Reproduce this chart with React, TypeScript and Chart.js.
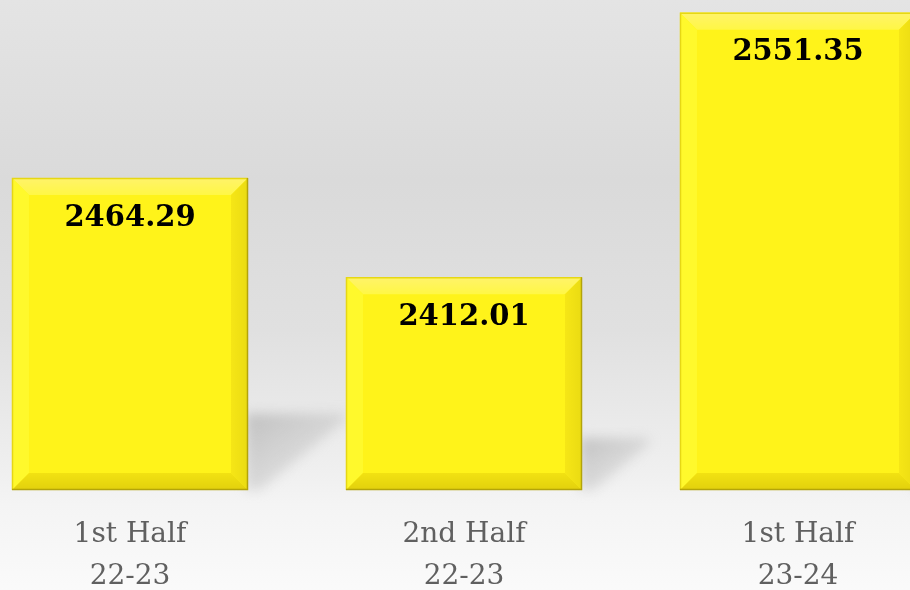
import React, { useEffect, useRef } from "react";
import { Chart, registerables } from "chart.js";

Chart.register(...registerables);

const categories: string[][] = [
  ["1st Half", "22-23"],
  ["2nd Half", "22-23"],
  ["1st Half", "23-24"],
];
const values: number[] = [2464.29, 2412.01, 2551.35];
const valueLabels: string[] = ["2464.29", "2412.01", "2551.35"];
const yMin = 2300;
const yMax = 2558;

const backgroundPlugin = {
  id: "bgGrad",
  beforeDraw(chart: any) {
    const { ctx, width, height } = chart;
    const g = ctx.createLinearGradient(0, 0, 0, height);
    g.addColorStop(0, "#e4e4e4");
    g.addColorStop(0.3, "#dadada");
    g.addColorStop(0.55, "#e0e0e0");
    g.addColorStop(0.78, "#efefef");
    g.addColorStop(0.84, "#f4f4f4");
    g.addColorStop(1, "#fbfbfb");
    ctx.save();
    ctx.fillStyle = g;
    ctx.fillRect(0, 0, width, height);
    ctx.restore();
  },
};

const barRect = (chart: any, bar: any) => {
  const p = bar.getProps(["x", "y", "base", "width"], true);
  const bottom = Math.min(p.base, chart.chartArea.bottom);
  return { x: p.x, L: p.x - p.width / 2, R: p.x + p.width / 2, T: p.y, B: bottom };
};

const shadowPlugin = {
  id: "barShadow",
  beforeDatasetsDraw(chart: any) {
    const { ctx } = chart;
    const meta = chart.getDatasetMeta(0);
    meta.data.forEach((bar: any) => {
      const r = barRect(chart, bar);
      const bh = r.B - r.T;
      const h = bh * 0.245;
      const ext = h * 1.28;
      const top = r.B - h;
      ctx.save();
      ctx.filter = "blur(6px)";
      const g = ctx.createLinearGradient(r.R, top, r.R + ext * 0.6, r.B);
      g.addColorStop(0, "rgba(175,175,175,0.7)");
      g.addColorStop(1, "rgba(200,200,200,0.35)");
      ctx.fillStyle = g;
      ctx.beginPath();
      ctx.moveTo(r.R - 2, top);
      ctx.lineTo(r.R + ext, top);
      ctx.lineTo(r.R + ext, top + 6);
      ctx.lineTo(r.R + 12, r.B);
      ctx.lineTo(r.R - 2, r.B);
      ctx.closePath();
      ctx.fill();
      ctx.restore();
    });
  },
};

const bevelPlugin = {
  id: "bevel",
  afterDatasetsDraw(chart: any) {
    const { ctx } = chart;
    const meta = chart.getDatasetMeta(0);
    meta.data.forEach((bar: any, i: number) => {
      const { x, L, R, T, B } = barRect(chart, bar);
      const b = 17;
      const poly = (pts: number[][], fill: any) => {
        ctx.beginPath();
        ctx.moveTo(pts[0][0], pts[0][1]);
        for (let k = 1; k < pts.length; k++) ctx.lineTo(pts[k][0], pts[k][1]);
        ctx.closePath();
        ctx.fillStyle = fill;
        ctx.fill();
      };
      ctx.save();
      poly([[L, T], [R, T], [R, B], [L, B]], "#fff31a");
      const tg = ctx.createLinearGradient(0, T, 0, T + b);
      tg.addColorStop(0, "#fff36a");
      tg.addColorStop(1, "#fff745");
      poly([[L, T], [R, T], [R - b, T + b], [L + b, T + b]], tg);
      poly([[L, T], [L + b, T + b], [L + b, B - b], [L, B]], "#fff92c");
      const rg = ctx.createLinearGradient(R - b, 0, R, 0);
      rg.addColorStop(0, "#f6e616");
      rg.addColorStop(1, "#eadb12");
      poly([[R, T], [R, B], [R - b, B - b], [R - b, T + b]], rg);
      const bg = ctx.createLinearGradient(0, B - b, 0, B);
      bg.addColorStop(0, "#f2e212");
      bg.addColorStop(1, "#e2d00c");
      poly([[L, B], [R, B], [R - b, B - b], [L + b, B - b]], bg);
      ctx.lineWidth = 1.5;
      ctx.strokeStyle = "#e6d714";
      ctx.beginPath();
      ctx.moveTo(L + 0.5, B);
      ctx.lineTo(L + 0.5, T + 0.5);
      ctx.lineTo(R, T + 0.5);
      ctx.stroke();
      ctx.strokeStyle = "#b3a40a";
      ctx.beginPath();
      ctx.moveTo(R - 0.5, T);
      ctx.lineTo(R - 0.5, B - 0.5);
      ctx.lineTo(L, B - 0.5);
      ctx.stroke();
      ctx.fillStyle = "#000000";
      ctx.font = "bold 29px 'DejaVu Serif', serif";
      ctx.textAlign = "center";
      ctx.textBaseline = "middle";
      ctx.fillText(valueLabels[i], x, T + 40);
      ctx.restore();
    });
  },
};

export default function App() {
  const ref = useRef<HTMLCanvasElement | null>(null);
  useEffect(() => {
    if (!ref.current) return;
    const chart = new Chart(ref.current, {
      type: "bar",
      data: {
        labels: categories,
        datasets: [
          {
            data: values,
            backgroundColor: "#fff31a",
            borderWidth: 0,
            categoryPercentage: 1,
            barPercentage: 0.7066,
          },
        ],
      },
      options: {
        animation: false,
        responsive: false,
        maintainAspectRatio: false,
        devicePixelRatio: 1,
        layout: { padding: { top: 0, bottom: 4, left: 0, right: 0 } },
        plugins: {
          legend: { display: false },
          tooltip: { enabled: false },
          title: { display: false },
        },
        scales: {
          x: {
            grid: { display: false },
            border: { display: false },
            afterFit(scale: any) {
              scale.height = 106;
            },
            ticks: {
              color: "#606060",
              padding: 16,
              autoSkip: false,
              maxRotation: 0,
              font: { family: "'DejaVu Serif', serif", size: 28, lineHeight: 1.5 },
            },
          },
          y: {
            display: false,
            min: yMin,
            max: yMax,
          },
        },
      },
      plugins: [backgroundPlugin, shadowPlugin, bevelPlugin],
    });
    return () => chart.destroy();
  }, []);
  return (
    <div
      style={{
        position: "fixed",
        left: 0,
        top: 0,
        width: 910,
        height: 590,
        overflow: "hidden",
        background: "#fbfbfb",
      }}
    >
      <canvas
        ref={ref}
        width={1002}
        height={600}
        style={{ position: "absolute", left: -37, top: 0, width: 1002, height: 600 }}
      />
    </div>
  );
}
